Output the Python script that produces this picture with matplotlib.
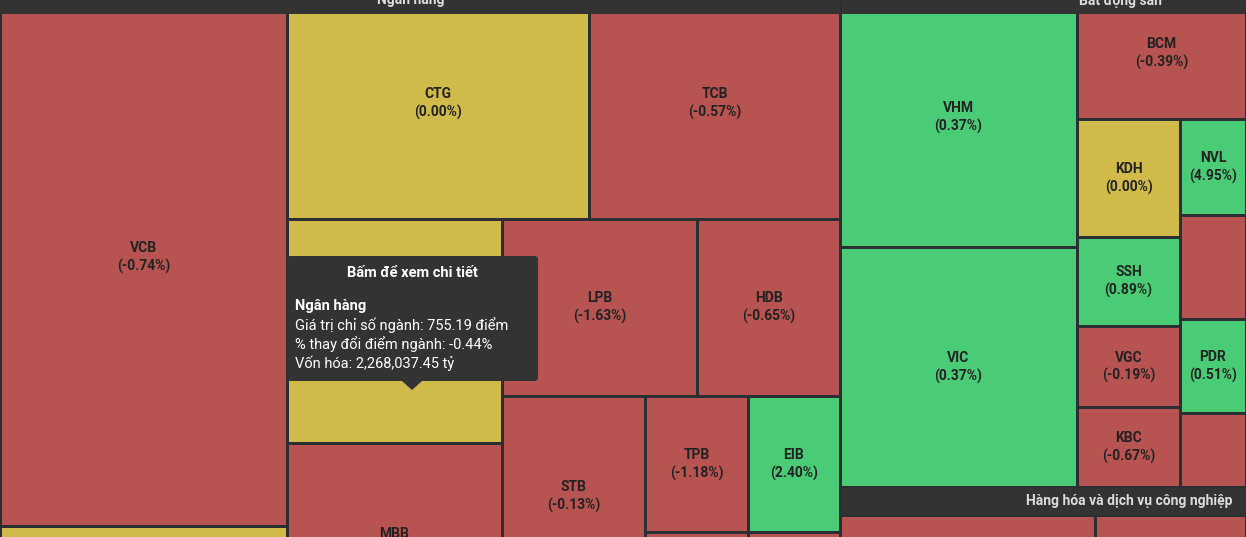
import matplotlib
matplotlib.use("Agg")
import matplotlib.pyplot as plt
from matplotlib.patches import Rectangle, FancyBboxPatch, Polygon

# ---- data ----
tickers = ["VCB", "VCB_next", "CTG", "TCB", "BANK_Y", "MBB", "LPB", "HDB", "STB", "TPB", "TPB_next", "EIB", "EIB_next",
           "VHM", "VIC", "BCM", "KDH", "SSH", "VGC", "KBC", "NVL", "RE_1", "PDR", "RE_2", "IND_1", "IND_2"]
changes = [-0.74, 0.00, 0.00, -0.57, 0.00, -0.30, -1.63, -0.65, -0.13, -1.18, -0.50, 2.40, -0.50,
           0.37, 0.37, -0.39, 0.00, 0.89, -0.19, -0.67, 4.95, -0.50, 0.51, -0.50, -0.50, -0.50]
labelled = {"VCB", "CTG", "TCB", "MBB", "LPB", "HDB", "STB", "TPB", "EIB", "VHM", "VIC", "BCM",
            "KDH", "SSH", "VGC", "KBC", "NVL", "PDR"}
chg = dict(zip(tickers, changes))

# tile sizes (relative extents)
bank_tree = ("h", [(287, ("v", [(538, "VCB"), (40, "VCB_next")])),
                   (553, ("v", [(231, ("h", [(302, "CTG"), (251, "TCB")])),
                                (400, ("h", [(215, ("v", [(224, "BANK_Y"), (200, "MBB")])),
                                             (338, ("v", [(177, ("h", [(195, "LPB"), (143, "HDB")])),
                                                          (200, ("h", [(143, "STB"),
                                                                       (103, ("v", [(136, "TPB"), (40, "TPB_next")])),
                                                                       (92, ("v", [(136, "EIB"), (40, "EIB_next")]))]))]))]))]))])
re_tree = ("h", [(237, ("v", [(259, "VHM"), (240, "VIC")])),
                 (169, ("v", [(131, "BCM"),
                              (368, ("h", [(103, ("v", [(118, "KDH"), (89, "SSH"), (81, "VGC"), (80, "KBC")])),
                                           (66, ("v", [(96, "NVL"), (104, "RE_1"), (94, "PDR"), (74, "RE_2")]))]))]))])
ind_tree = ("h", [(255, "IND_1"), (151, "IND_2")])

groups = ["Ngân hàng", "Bất động sản", "Hàng hóa và dịch vụ công nghiệp"]

RED, YEL, GRN = "#B75350", "#D0BA4A", "#4ACC76"
BG = "#2B2F33"

def color(v):
    return GRN if v > 0 else (RED if v < 0 else YEL)

fig = plt.figure(figsize=(12.46, 5.37), dpi=100)
fig.patch.set_facecolor(BG)
ax = fig.add_axes([0, 0, 1, 1])
ax.set_xlim(0, 1246); ax.set_ylim(537, 0); ax.axis("off")
ax.set_facecolor(BG)
plt.rcParams['font.family'] = ['Roboto', 'DejaVu Sans']

def layout(node, x, y, w, h):
    if isinstance(node, str):
        draw_tile(node, x, y, w, h); return
    d, kids = node
    pos = 0
    for s, c in kids:
        if d == "h":
            layout(c, x + pos, y, s, h)
        else:
            layout(c, x, y + pos, w, s)
        pos += s

def draw_tile(name, x, y, w, h):
    g = 1.5
    ax.add_patch(Rectangle((x + g, y + g), w - 2 * g, h - 2 * g, facecolor=color(chg[name]),
                           edgecolor="none", clip_on=True, zorder=1))
    if name in labelled:
        cx, cy = x + w / 2, y + h / 2
        ax.text(cx, cy - 9, name, ha="center", va="center", fontsize=10, fontweight="bold", color="#222222", zorder=2)
        ax.text(cx, cy + 9, f"({chg[name]:.2f}%)", ha="center", va="center", fontsize=10,
                fontweight="bold", color="#222222", zorder=2)

layout(bank_tree, 0, -12, 840, 560)
layout(re_tree, 840, -12, 406, 499)
layout(ind_tree, 840, 515, 406, 60)

# headers
ax.add_patch(Rectangle((0, -10), 839.5, 24, facecolor="#333333", edgecolor="none", zorder=3))
ax.text(411, 0, groups[0], ha="center", va="center", fontsize=10, fontweight="bold", color="#dddddd", zorder=4)
ax.add_patch(Rectangle((841.5, -10), 404.5, 24, facecolor="#333333", edgecolor="none", zorder=3))
ax.text(1120, 0, groups[1], ha="center", va="center", fontsize=10, fontweight="bold", color="#dddddd", zorder=4)
ax.add_patch(Rectangle((841.5, 488), 404.5, 27, facecolor="#333333", edgecolor="none", zorder=3))
ax.text(1232, 501, groups[2], ha="right", va="center", fontsize=10, fontweight="bold", color="#dddddd", zorder=4)

# tooltip
ax.add_patch(FancyBboxPatch((289, 258), 247, 121, boxstyle="round,pad=2,rounding_size=4",
                            facecolor="#333333", edgecolor="none", zorder=5))
ax.add_patch(Polygon([[402, 381], [422, 381], [412, 390]], closed=True, facecolor="#333333", edgecolor="none", zorder=5))
ax.text(412, 273, "Bấm để xem chi tiết", ha="center", va="center", fontsize=10.5, fontweight="bold", color="white", zorder=6)
ax.text(295, 306, "Ngân hàng", ha="left", va="center", fontsize=10.5, fontweight="bold", color="white", zorder=6)
for i, t in enumerate(["Giá trị chỉ số ngành: 755.19 điểm", "% thay đổi điểm ngành: -0.44%",
                       "Vốn hóa: 2,268,037.45 tỷ"]):
    ax.text(295, 325 + 19 * i, t, ha="left", va="center", fontsize=10.5, color="white", zorder=6)

fig.savefig("out.png", dpi=100, facecolor=BG)
